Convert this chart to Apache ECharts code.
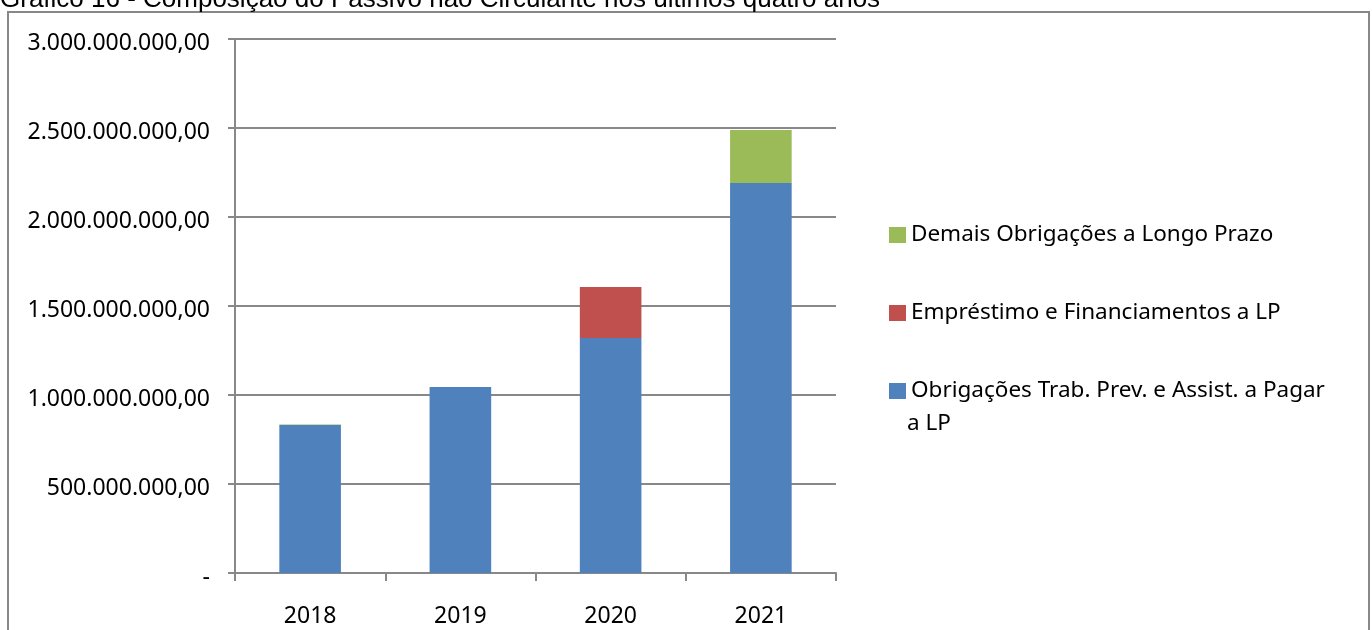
<!DOCTYPE html>
<html>
<head>
<meta charset="utf-8">
<script src="https://cdn.jsdelivr.net/npm/echarts@6/dist/echarts.min.js"></script>
<style>
  html, body { margin: 0; padding: 0; background: #fff; }
  #chart { width: 1372px; height: 630px; }
</style>
</head>
<body>
<div id="chart"></div>
<script>
// Passivo não Circulante, por ano
const years = ['2018', '2019', '2020', '2021'];
const obrigacoesTrab = [831000000, 1045000000, 1320000000, 2191000000];
const emprestimos = [0, 0, 287000000, 0];
const demaisObrigacoes = [3000000, 0, 0, 298000000];
const seriesNames = [
  'Obrigações Trab. Prev. e Assist. a Pagar a LP',
  'Empréstimo e Financiamentos a LP',
  'Demais Obrigações a Longo Prazo'
];
const yTicks = { min: 0, max: 3000000000, interval: 500000000 };
const titleText = 'Gráfico 16 - Composição do Passivo não Circulante nos últimos quatro anos';

const labelFont = 'Noto Sans';
const labelSize = 23;
const legendSize = 22.5;
const colors = ['#4F81BD', '#C0504D', '#9BBB59'];

// Valores no formato brasileiro; zero aparece como traço
function brl(v) {
  if (v === 0) return '-';
  const int = Math.round(v).toString().replace(/\B(?=(\d{3})+(?!\d))/g, '.');
  return int + ',00';
}

const chart = echarts.init(document.getElementById('chart'), null, { renderer: 'canvas' });

const seriesData = [obrigacoesTrab, emprestimos, demaisObrigacoes];

chart.setOption({
  animation: false,
  color: colors,
  graphic: [
    {
      type: 'rect',
      shape: { x: 8, y: 12, width: 1361, height: 640 },
      style: { fill: 'none', stroke: '#888', lineWidth: 2 },
      silent: true
    },
    {
      type: 'text',
      left: 0,
      top: -13,
      style: {
        text: titleText,
        font: '26px "Liberation Sans", Arial, sans-serif',
        fill: '#000'
      },
      silent: true
    },
    {
      // segunda linha do último item da legenda
      type: 'text',
      left: 907,
      top: 412,
      style: {
        text: 'a LP',
        font: legendSize + 'px "' + labelFont + '"',
        fill: '#000'
      },
      silent: true
    }
  ],
  grid: { left: 235, right: 536, top: 39, bottom: 57, containLabel: false },
  legend: {
    orient: 'vertical',
    left: 884,
    top: 216,
    itemWidth: 17,
    itemHeight: 16,
    itemGap: 50,
    icon: 'rect',
    data: [seriesNames[2], seriesNames[1], seriesNames[0]],
    formatter: function (name) {
      return name === seriesNames[0]
        ? 'Obrigações Trab. Prev. e Assist. a Pagar'
        : name;
    },
    textStyle: {
      fontFamily: labelFont,
      fontSize: legendSize,
      color: '#000',
      lineHeight: 28
    }
  },
  xAxis: {
    type: 'category',
    data: years,
    boundaryGap: true,
    axisLine: { lineStyle: { color: '#888', width: 2 } },
    axisTick: { show: true, alignWithLabel: false, length: 8, lineStyle: { color: '#888', width: 2 } },
    axisLabel: { margin: 32, fontFamily: labelFont, fontSize: labelSize, color: '#000' }
  },
  yAxis: {
    type: 'value',
    min: yTicks.min,
    max: yTicks.max,
    interval: yTicks.interval,
    axisLine: { show: true, lineStyle: { color: '#888', width: 2 } },
    axisTick: { show: true, length: 7, lineStyle: { color: '#888', width: 2 } },
    splitLine: { show: true, lineStyle: { color: '#888', width: 2 } },
    axisLabel: {
      margin: 25,
      verticalAlign: 'top',
      lineHeight: 8,
      fontFamily: labelFont,
      fontSize: labelSize,
      color: '#000',
      formatter: brl
    }
  },
  series: seriesNames.map(function (name, i) {
    return {
      name: name,
      type: 'bar',
      stack: 'total',
      barWidth: '41%',
      data: seriesData[i],
      itemStyle: { color: colors[i] }
    };
  })
});
</script>
</body>
</html>
